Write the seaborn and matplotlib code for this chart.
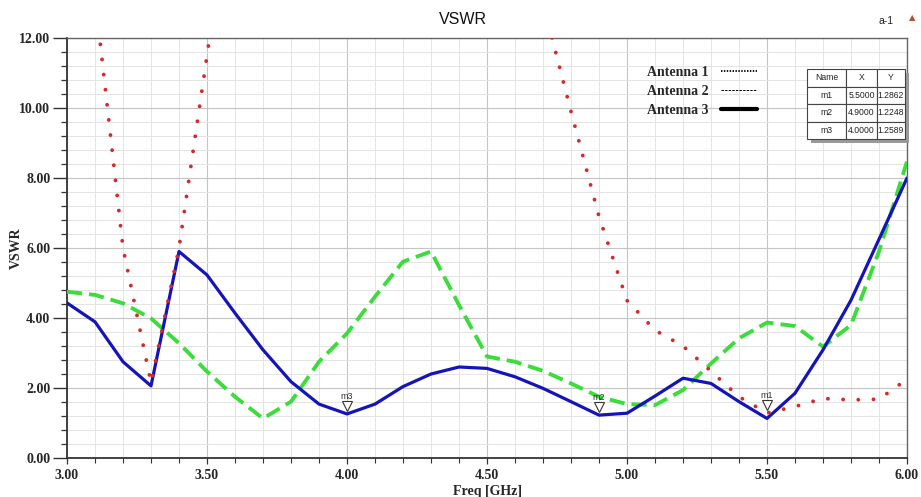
import numpy as np
import pandas as pd
import matplotlib
matplotlib.use("Agg")
import matplotlib.pyplot as plt
import matplotlib.transforms as mtransforms
from matplotlib.lines import Line2D
from matplotlib.patches import Rectangle
from matplotlib.ticker import MultipleLocator, FormatStrFormatter
import seaborn as sns

# ---------------- data ----------------
freq = [3.0, 3.1, 3.2, 3.3, 3.4, 3.5, 3.6, 3.7, 3.8, 3.9,
        4.0, 4.1, 4.2, 4.3, 4.4, 4.5, 4.6, 4.7, 4.8, 4.9,
        5.0, 5.1, 5.2, 5.3, 5.4, 5.5, 5.6, 5.7, 5.8, 5.9, 6.0]

nan = np.nan
antenna1 = [20.0, 13.2, 6.0, 2.15, 6.0, 11.5, 17.0, nan, nan, nan,
            nan, nan, nan, nan, nan, nan, nan, 13.0, 9.9, 6.9,
            4.5, 3.65, 3.2, 2.48, 1.75, 1.2862, 1.47, 1.70, 1.66, 1.68, 2.25]

antenna2 = [4.75, 4.66, 4.42, 3.99, 3.28, 2.47, 1.75, 1.13, 1.61, 2.75,
            3.56, 4.61, 5.61, 5.90, 4.37, 2.90, 2.75, 2.49, 2.13, 1.75,
            1.54, 1.51, 1.94, 2.70, 3.42, 3.87, 3.77, 3.18, 3.80, 5.90, 8.47]

antenna3 = [4.43, 3.89, 2.75, 2.06, 5.90, 5.23, 4.14, 3.09, 2.18, 1.54,
            1.2589, 1.54, 2.04, 2.40, 2.60, 2.56, 2.32, 1.99, 1.61, 1.2248,
            1.28, 1.77, 2.28, 2.13, 1.61, 1.13, 1.85, 3.09, 4.51, 6.25, 8.00]

marker_names = ["m1", "m2", "m3"]
marker_x = [5.5, 4.9, 4.0]
marker_y = [1.2862, 1.2248, 1.2589]

legend_labels = ["Antenna 1", "Antenna 2", "Antenna 3"]
table_cols = ["Name", "X", "Y"]

# ---------------- style ----------------
sns.set_style("white")
plt.rcParams["font.family"] = ["Liberation Serif", "DejaVu Serif"]

fig = plt.figure(figsize=(9.21, 4.97), dpi=100)
W, H = 921, 497
ax = fig.add_axes([67 / W, 1 - 458 / H, 840 / W, 420 / H])

red = "#d42a2a"
green = "#3ddc3d"
blue = "#1414b8"

sns.lineplot(x=freq, y=antenna2, ax=ax, color=green, linewidth=2.8,
             linestyle=(0, (3.9, 1.8)), errorbar=None, zorder=3)
sns.lineplot(x=freq, y=antenna3, ax=ax, color=blue, linewidth=2.3,
             errorbar=None, zorder=4)
sns.lineplot(x=freq, y=antenna1, ax=ax, color=red, linewidth=2.8,
             linestyle=(0, (0.01, 3.9)), dash_capstyle="round",
             errorbar=None, zorder=5)

ax.set_xlim(3.0, 6.0)
ax.set_ylim(0.0, 12.0)
ax.xaxis.set_major_locator(MultipleLocator(0.5))
ax.xaxis.set_minor_locator(MultipleLocator(0.1))
ax.yaxis.set_major_locator(MultipleLocator(2.0))
ax.yaxis.set_minor_locator(MultipleLocator(0.4))
ax.xaxis.set_major_formatter(FormatStrFormatter("%.2f"))
ax.yaxis.set_major_formatter(FormatStrFormatter("%.2f"))

ax.grid(True, which="major", color="#c4c4c4", linewidth=0.8, zorder=0)
ax.grid(True, which="minor", color="#e4e4e4", linewidth=0.7, zorder=0)
ax.set_axisbelow(True)

for s in ["left", "bottom"]:
    ax.spines[s].set_color("#333333")
    ax.spines[s].set_linewidth(1.3)
for s in ["top", "right"]:
    ax.spines[s].set_color("#666666")
    ax.spines[s].set_linewidth(1.0)

ax.tick_params(axis="y", which="major", direction="out", length=10, width=1.0,
               color="#333333", labelsize=10, pad=2)
ax.tick_params(axis="y", which="minor", direction="out", length=4.5, width=0.9,
               color="#333333")
ax.tick_params(axis="x", which="major", direction="out", length=4, width=0.9,
               color="#333333", labelsize=10, pad=4)
ax.tick_params(axis="x", which="minor", direction="out", length=3.5, width=0.8,
               color="#333333")
ax.tick_params(axis="x", which="both", bottom=True)
ax.tick_params(axis="y", which="both", left=True)
for lab in ax.get_xticklabels() + ax.get_yticklabels():
    lab.set_fontweight("bold")

ax.set_xlabel("Freq [GHz]", fontsize=10, fontweight="bold", labelpad=2)
ax.set_ylabel("VSWR", fontsize=10, fontweight="bold")
ax.yaxis.set_label_coords((23 - 67) / 840, 0.5)

# ---------------- markers ----------------
tri_tr = mtransforms.offset_copy(ax.transData, fig=fig, x=0, y=5.5, units="points")
for name, mx, my in zip(marker_names, marker_x, marker_y):
    ax.plot([mx], [my], marker="v", markersize=7, markerfacecolor="white",
            markeredgecolor="#333333", markeredgewidth=0.8, linestyle="none",
            transform=tri_tr, zorder=6)
    ax.annotate(name, (mx, my), xytext=(0, 12.5), textcoords="offset points",
                ha="center", va="center", fontsize=6.5, color="#333333",
                family=["Liberation Sans", "DejaVu Sans"], zorder=6)

# ---------------- legend ----------------
handles = [
    Line2D([], [], color="black", linewidth=1.3, linestyle=(0, (0.8, 0.8))),
    Line2D([], [], color="black", linewidth=0.7, linestyle=(0, (2.5, 1.2))),
    Line2D([], [], color="black", linewidth=3.0),
]
leg = ax.legend(handles, legend_labels, loc="upper left",
                bbox_to_anchor=((647 - 67) / 840, (458 - 66) / 420),
                frameon=False, markerfirst=False, borderpad=0, borderaxespad=0,
                handlelength=2.6, handletextpad=0.9, labelspacing=0.42,
                prop={"family": ["Liberation Serif"], "weight": "bold", "size": 10})

# ---------------- marker table ----------------
cell_text = [[n, f"{x:.4f}", f"{y:.4f}"] for n, x, y in zip(marker_names, marker_x, marker_y)]
tx0, ty0, tw, th = (807 - 67) / 840, (458 - 139) / 420, 98 / 840, 70 / 420
shadow = Rectangle((tx0 + 4 / 840, ty0 - 4 / 420), tw, th, transform=ax.transAxes,
                   facecolor="#9a9a9a", edgecolor="none", zorder=8, clip_on=False)
ax.add_patch(shadow)
tbl = ax.table(cellText=cell_text, colLabels=table_cols, cellLoc="center",
               colWidths=[39, 31, 28], bbox=[tx0, ty0, tw, th], zorder=9)
tbl.auto_set_font_size(False)
tbl.set_fontsize(6.2)
for (r, c), cell in tbl.get_celld().items():
    cell.set_edgecolor("#444444")
    cell.set_linewidth(0.8)
    cell.set_facecolor("white")
    cell.get_text().set_family(["Liberation Sans", "DejaVu Sans"])
    cell.get_text().set_color("#222222")
    cell.set_zorder(9)

# ---------------- titles ----------------
fig.text(463 / W, 1 - 19 / H, "VSWR", ha="center", va="center", fontsize=11.5,
         family=["Liberation Sans", "DejaVu Sans"], color="#111111")
fig.text(886 / W, 1 - 21 / H, "a-1", ha="center", va="center", fontsize=7.5,
         family=["Liberation Sans", "DejaVu Sans"], color="#222222")
fig.text(912 / W, 1 - 18 / H, "\u25b2", ha="center", va="center", fontsize=6,
         family=["DejaVu Sans"], color="#b0503a")

fig.savefig("out.png", dpi=100, facecolor="white")
